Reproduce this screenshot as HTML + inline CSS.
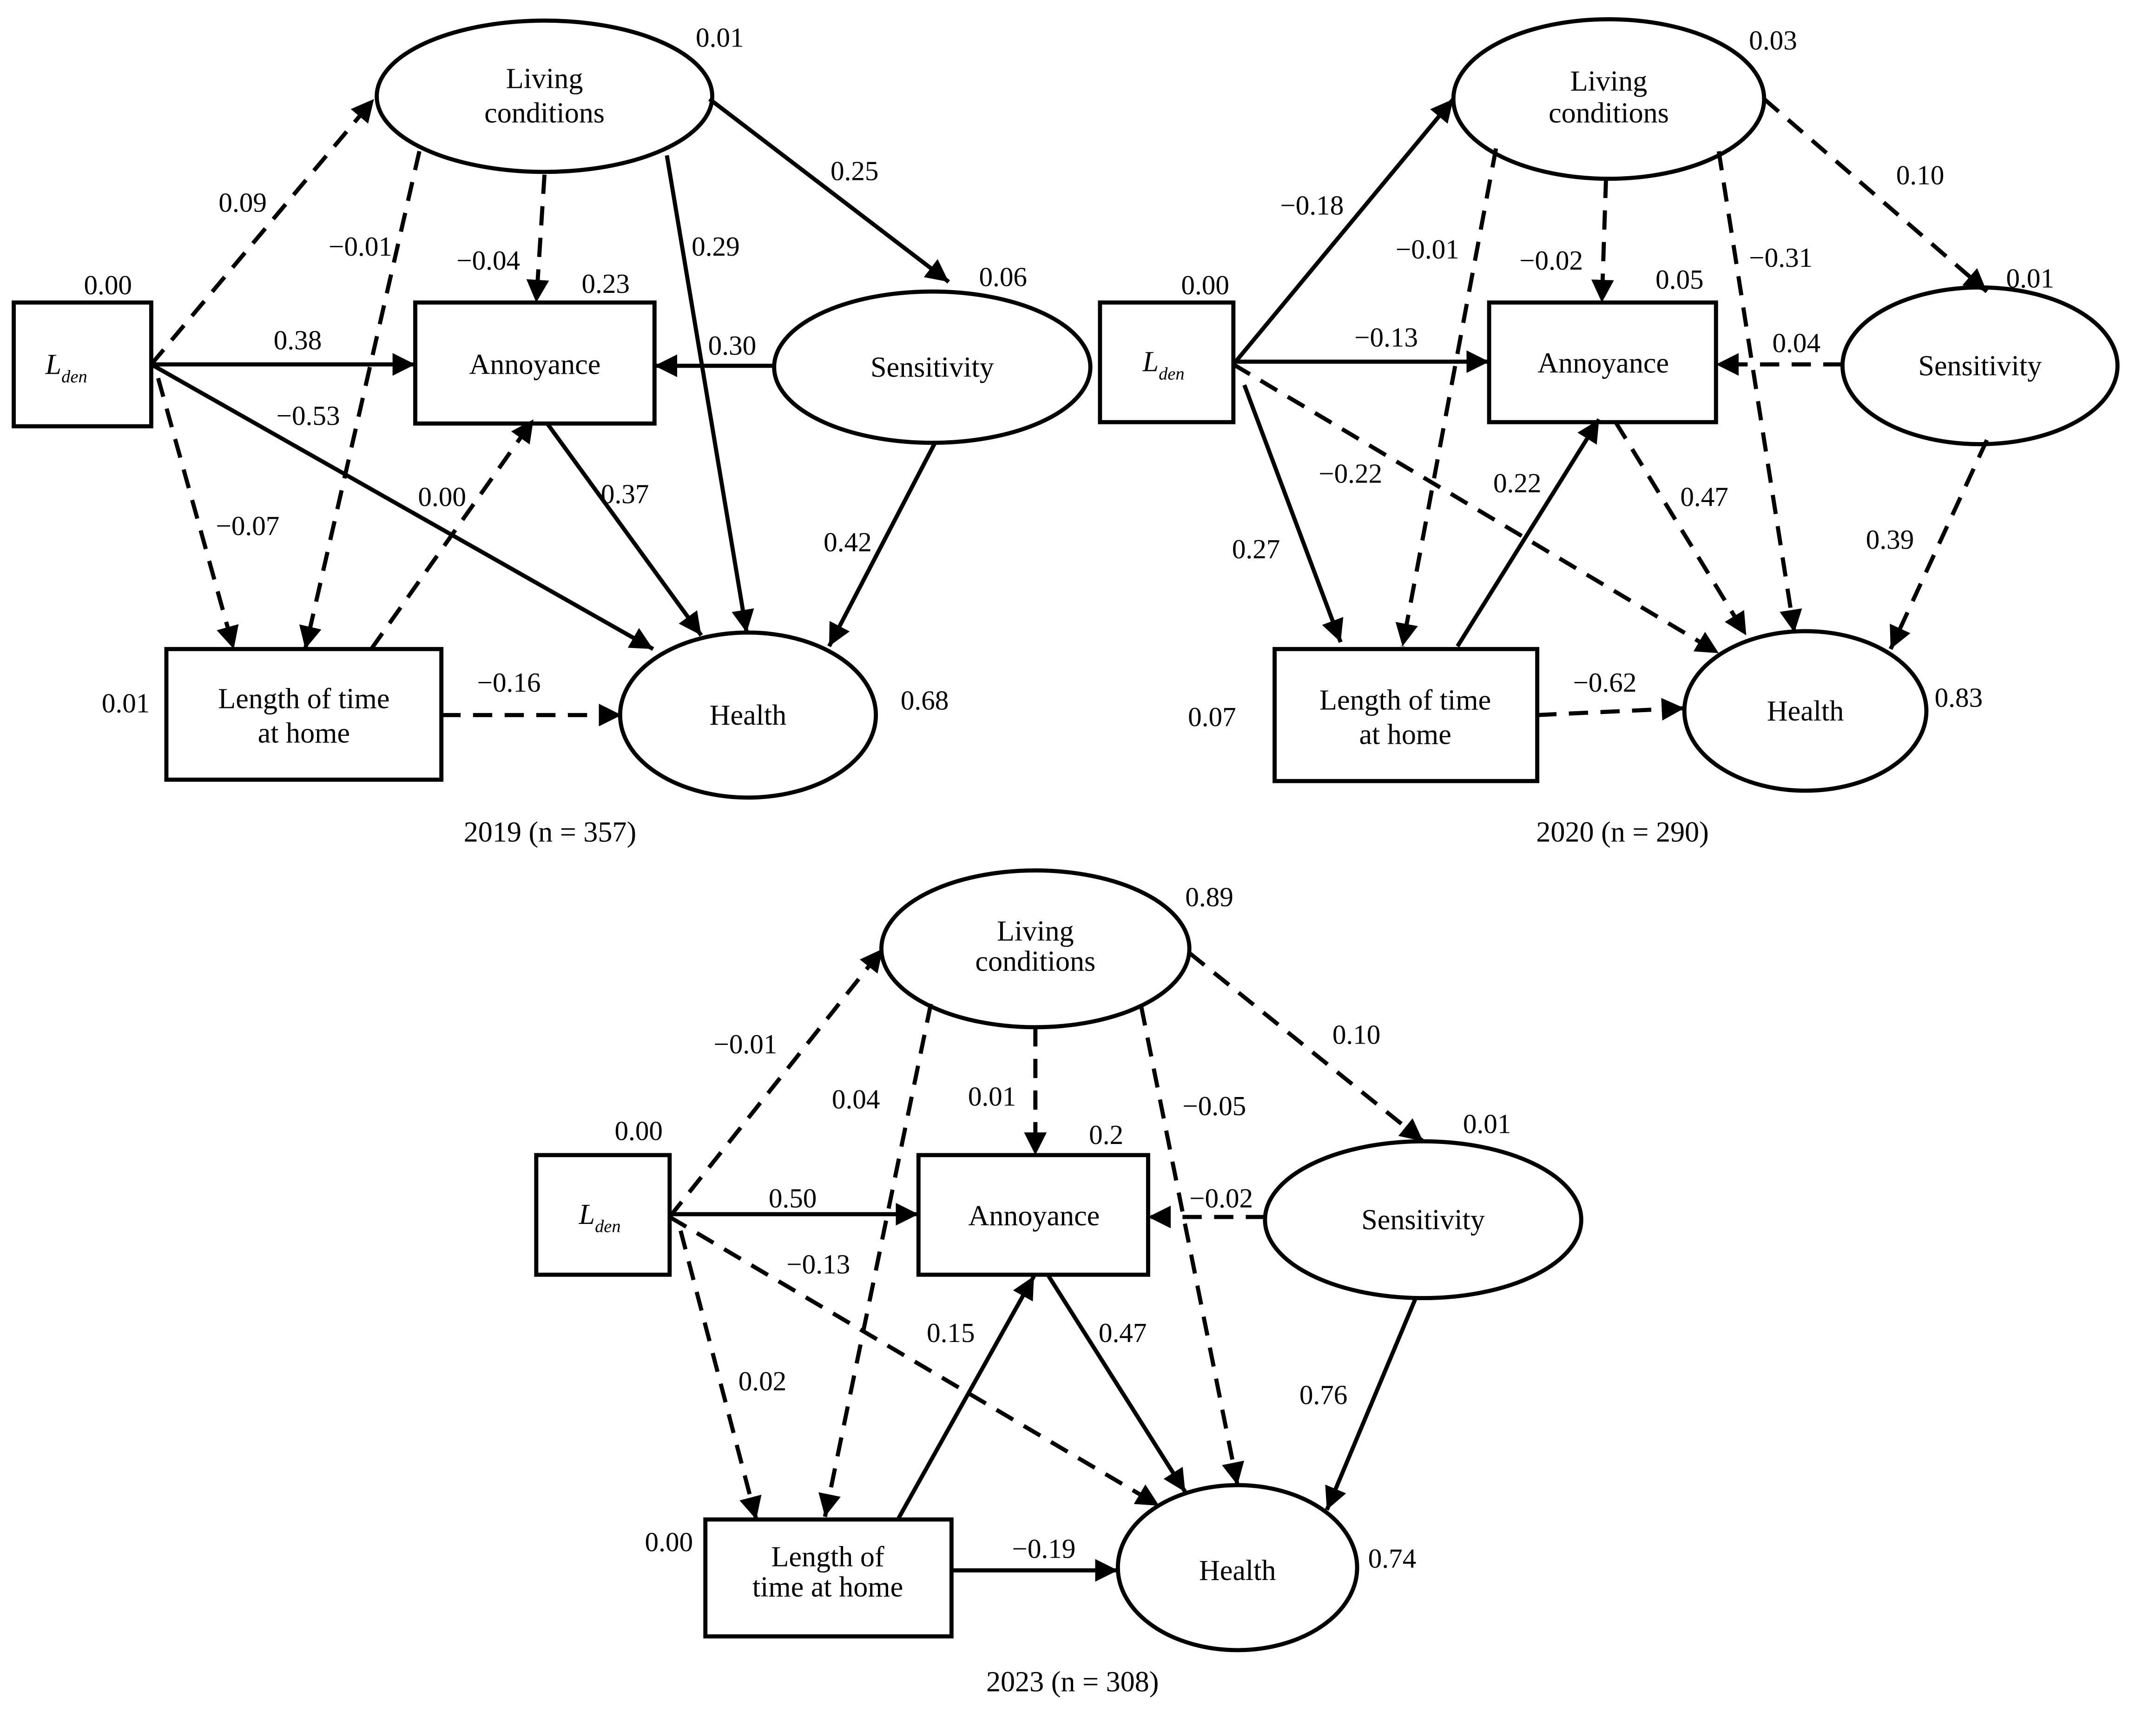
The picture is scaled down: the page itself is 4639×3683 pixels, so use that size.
<!DOCTYPE html>
<html><head><meta charset="utf-8"><style>
html,body{margin:0;padding:0;background:#fff}
svg{display:block}
text{font-family:"Liberation Serif",serif;fill:#000}
.l{font-size:21px;text-anchor:middle}
</style></head><body>
<svg width="4639" height="3683" viewBox="0 0 1568 1245" preserveAspectRatio="none" xmlns="http://www.w3.org/2000/svg">
<defs>
<marker id="a" viewBox="0 0 10 10" refX="10" refY="5" markerWidth="5.5" markerHeight="5.5" orient="auto" markerUnits="strokeWidth"><path d="M0,0L10,5L0,10z" fill="#000"/></marker>
</defs>
<g fill="none" stroke="#000" stroke-width="3">
<ellipse cx="396" cy="70" rx="122" ry="55"/>
<rect x="10" y="220" width="100" height="90"/>
<rect x="302" y="220" width="174" height="88"/>
<ellipse cx="678" cy="267" rx="115" ry="55"/>
<rect x="121" y="472" width="200" height="95"/>
<ellipse cx="544" cy="520" rx="93" ry="60"/>
<ellipse cx="1170" cy="72" rx="113" ry="58"/>
<rect x="800" y="220" width="97" height="87"/>
<rect x="1083" y="220" width="165" height="87"/>
<ellipse cx="1440" cy="266" rx="100" ry="57"/>
<rect x="927" y="472" width="191" height="96"/>
<ellipse cx="1313" cy="517" rx="88" ry="58"/>
<ellipse cx="753" cy="690" rx="112" ry="57"/>
<rect x="390" y="840" width="97" height="87"/>
<rect x="668" y="840" width="167" height="87"/>
<ellipse cx="1035" cy="887" rx="115" ry="57"/>
<rect x="513" y="1105" width="179" height="85"/>
<ellipse cx="900" cy="1140" rx="87" ry="60"/>
</g>
<g stroke="#000" stroke-width="3" fill="none" marker-end="url(#a)">
<line x1="110" y1="265" x2="272" y2="72" stroke-dasharray="14,9"/>
<line x1="305" y1="110" x2="222" y2="472" stroke-dasharray="14,9"/>
<line x1="396" y1="127" x2="390" y2="220" stroke-dasharray="14,9"/>
<line x1="485" y1="113" x2="543" y2="460"/>
<line x1="516" y1="72" x2="690" y2="205"/>
<line x1="110" y1="265" x2="302" y2="265"/>
<line x1="563" y1="266" x2="476" y2="266"/>
<line x1="110" y1="265" x2="475" y2="472"/>
<line x1="115" y1="275" x2="170" y2="472" stroke-dasharray="14,9"/>
<line x1="270" y1="472" x2="388" y2="305" stroke-dasharray="14,9"/>
<line x1="398" y1="308" x2="510" y2="462"/>
<line x1="680" y1="322" x2="603" y2="470"/>
<line x1="321" y1="520" x2="452" y2="520" stroke-dasharray="14,9"/>
<line x1="897" y1="265" x2="1057" y2="72"/>
<line x1="1088" y1="108" x2="1020" y2="470" stroke-dasharray="14,9"/>
<line x1="1168" y1="130" x2="1165" y2="220" stroke-dasharray="14,9"/>
<line x1="1250" y1="110" x2="1305" y2="460" stroke-dasharray="14,9"/>
<line x1="1283" y1="72" x2="1445" y2="212" stroke-dasharray="14,9"/>
<line x1="897" y1="263" x2="1083" y2="263"/>
<line x1="1340" y1="265" x2="1248" y2="265" stroke-dasharray="14,9"/>
<line x1="897" y1="265" x2="1250" y2="475" stroke-dasharray="14,9"/>
<line x1="905" y1="280" x2="975" y2="467"/>
<line x1="1060" y1="470" x2="1163" y2="305"/>
<line x1="1175" y1="307" x2="1270" y2="462" stroke-dasharray="14,9"/>
<line x1="1445" y1="320" x2="1375" y2="472" stroke-dasharray="14,9"/>
<line x1="1118" y1="520" x2="1225" y2="515" stroke-dasharray="14,9"/>
<line x1="487" y1="885" x2="642" y2="690" stroke-dasharray="14,9"/>
<line x1="677" y1="730" x2="600" y2="1103" stroke-dasharray="14,9"/>
<line x1="753" y1="747" x2="753" y2="840" stroke-dasharray="14,9"/>
<line x1="830" y1="732" x2="900" y2="1080" stroke-dasharray="14,9"/>
<line x1="865" y1="693" x2="1035" y2="830" stroke-dasharray="14,9"/>
<line x1="487" y1="883" x2="668" y2="883"/>
<line x1="920" y1="885" x2="835" y2="885" stroke-dasharray="14,9"/>
<line x1="487" y1="885" x2="843" y2="1095" stroke-dasharray="14,9"/>
<line x1="495" y1="895" x2="550" y2="1105" stroke-dasharray="14,9"/>
<line x1="653" y1="1105" x2="752" y2="928"/>
<line x1="762" y1="927" x2="862" y2="1085"/>
<line x1="1030" y1="943" x2="965" y2="1098"/>
<line x1="692" y1="1142" x2="813" y2="1142"/>
</g>
<text class="l" x="396" y="64">Living</text><text class="l" x="396" y="89">conditions</text>
<text x="33" y="272" font-size="21" font-style="italic">L<tspan font-size="13" dy="6">den</tspan></text>
<text class="l" x="389" y="272">Annoyance</text>
<text class="l" x="678" y="274">Sensitivity</text>
<text class="l" x="221" y="515">Length of time</text><text class="l" x="221" y="540">at home</text>
<text class="l" x="544" y="527">Health</text>
<text class="l" x="400" y="612">2019 (n = 357)</text>

<text class="l" x="1170" y="66">Living</text><text class="l" x="1170" y="89">conditions</text>
<text x="831" y="270" font-size="21" font-style="italic">L<tspan font-size="13" dy="6">den</tspan></text>
<text class="l" x="1166" y="271">Annoyance</text>
<text class="l" x="1440" y="273">Sensitivity</text>
<text class="l" x="1022" y="516">Length of time</text><text class="l" x="1022" y="541">at home</text>
<text class="l" x="1313" y="524">Health</text>
<text class="l" x="1180" y="612">2020 (n = 290)</text>

<text class="l" x="753" y="684">Living</text><text class="l" x="753" y="706">conditions</text>
<text x="421" y="890" font-size="21" font-style="italic">L<tspan font-size="13" dy="6">den</tspan></text>
<text class="l" x="752" y="891">Annoyance</text>
<text class="l" x="1035" y="894">Sensitivity</text>
<text class="l" x="602" y="1139">Length of</text><text class="l" x="602" y="1161">time at home</text>
<text class="l" x="900" y="1149">Health</text>
<text class="l" x="780" y="1230">2023 (n = 308)</text>
<g font-size="20">
<text x="506" y="34">0.01</text><text x="159" y="154">0.09</text><text x="239" y="186">−0.01</text><text x="332" y="196">−0.04</text><text x="423" y="213">0.23</text><text x="604" y="131">0.25</text><text x="503" y="186">0.29</text><text x="712" y="208">0.06</text><text x="61" y="214">0.00</text><text x="199" y="254">0.38</text><text x="515" y="258">0.30</text><text x="201" y="309">−0.53</text><text x="304" y="368">0.00</text><text x="437" y="366">0.37</text><text x="157" y="389">−0.07</text><text x="599" y="401">0.42</text><text x="74" y="518">0.01</text><text x="347" y="503">−0.16</text><text x="655" y="516">0.68</text>
<text x="1272" y="36">0.03</text><text x="931" y="156">−0.18</text><text x="1379" y="134">0.10</text><text x="1015" y="188">−0.01</text><text x="1105" y="196">−0.02</text><text x="1272" y="194">−0.31</text><text x="1204" y="210">0.05</text><text x="859" y="214">0.00</text><text x="1459" y="209">0.01</text><text x="985" y="252">−0.13</text><text x="1289" y="256">0.04</text><text x="959" y="351">−0.22</text><text x="1086" y="358">0.22</text><text x="1222" y="368">0.47</text><text x="896" y="406">0.27</text><text x="1357" y="399">0.39</text><text x="864" y="528">0.07</text><text x="1144" y="503">−0.62</text><text x="1407" y="514">0.83</text>
<text x="862" y="659">0.89</text><text x="519" y="766">−0.01</text><text x="969" y="759">0.10</text><text x="605" y="806">0.04</text><text x="704" y="804">0.01</text><text x="860" y="811">−0.05</text><text x="447" y="829">0.00</text><text x="792" y="832">0.2</text><text x="1064" y="824">0.01</text><text x="559" y="878">0.50</text><text x="865" y="878">−0.02</text><text x="572" y="926">−0.13</text><text x="674" y="976">0.15</text><text x="799" y="976">0.47</text><text x="537" y="1011">0.02</text><text x="945" y="1021">0.76</text><text x="469" y="1128">0.00</text><text x="736" y="1133">−0.19</text><text x="995" y="1140">0.74</text>
</g>
</svg>
</body></html>
